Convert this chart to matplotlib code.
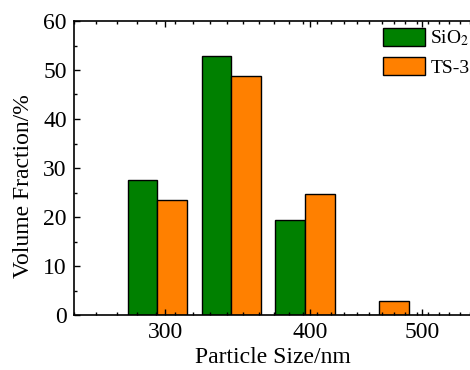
import numpy as np
import matplotlib
matplotlib.use("Agg")
import matplotlib.pyplot as plt
import matplotlib.ticker as mticker

# size bins (nm, log spaced) and volume fractions (%)
bin_nm = [295.3, 342.0, 396.1, 458.7]
sio2 = [27.6, 52.9, 19.4, 0.0]
ts3 = [23.5, 48.7, 24.7, 2.9]
labels = ["SiO$_2$", "TS-3"]

plt.rcParams["font.family"] = ["Liberation Serif", "DejaVu Serif"]
plt.rcParams["mathtext.fontset"] = "stix"

fig = plt.figure(figsize=(4.7, 3.7), dpi=100)
ax = fig.add_axes([73.7 / 470, 55 / 370, (472 - 73.7) / 470, 294 / 370])
ax.set_xscale("log")

centers = np.array(bin_nm)
f = 10 ** 0.02565  # bar width in log units
ax.bar(centers / f, sio2, width=centers - centers / f, align="edge",
       color="#008000", edgecolor="black", linewidth=1.0, label=labels[0])
ax.bar(centers, ts3, width=centers * f - centers, align="edge",
       color="#FF8000", edgecolor="black", linewidth=1.0, label=labels[1])

ax.set_xlim(250, 552)
ax.set_ylim(0, 60)
ax.set_xticks([300, 400, 500], labels=["300", "400", "500"])
ax.set_xticks(250 + np.arange(0, 28) * 100 / 9, minor=True)
ax.xaxis.set_minor_formatter(mticker.NullFormatter())
ax.set_yticks(np.arange(0, 61, 10))
ax.yaxis.set_minor_locator(mticker.MultipleLocator(5))

ax.tick_params(which="both", direction="in", top=True, right=False,
               labelsize=17, width=1.0)
ax.tick_params(which="major", length=4, pad=5)
ax.tick_params(which="minor", length=2.2)
for s in ax.spines.values():
    s.set_linewidth(1.2)

ax.set_xlabel("Particle Size/nm", fontsize=17, labelpad=3)
ax.set_ylabel("Volume Fraction/%", fontsize=17)
ax.yaxis.set_label_coords(-0.10, 0.44)

ax.legend(loc="upper left", frameon=False, fontsize=14,
          handlelength=2.15, handleheight=1.0, handletextpad=0.3,
          labelspacing=0.45, borderaxespad=0, borderpad=0,
          bbox_to_anchor=(0.776, 0.975))

fig.savefig("out.png", dpi=100)
